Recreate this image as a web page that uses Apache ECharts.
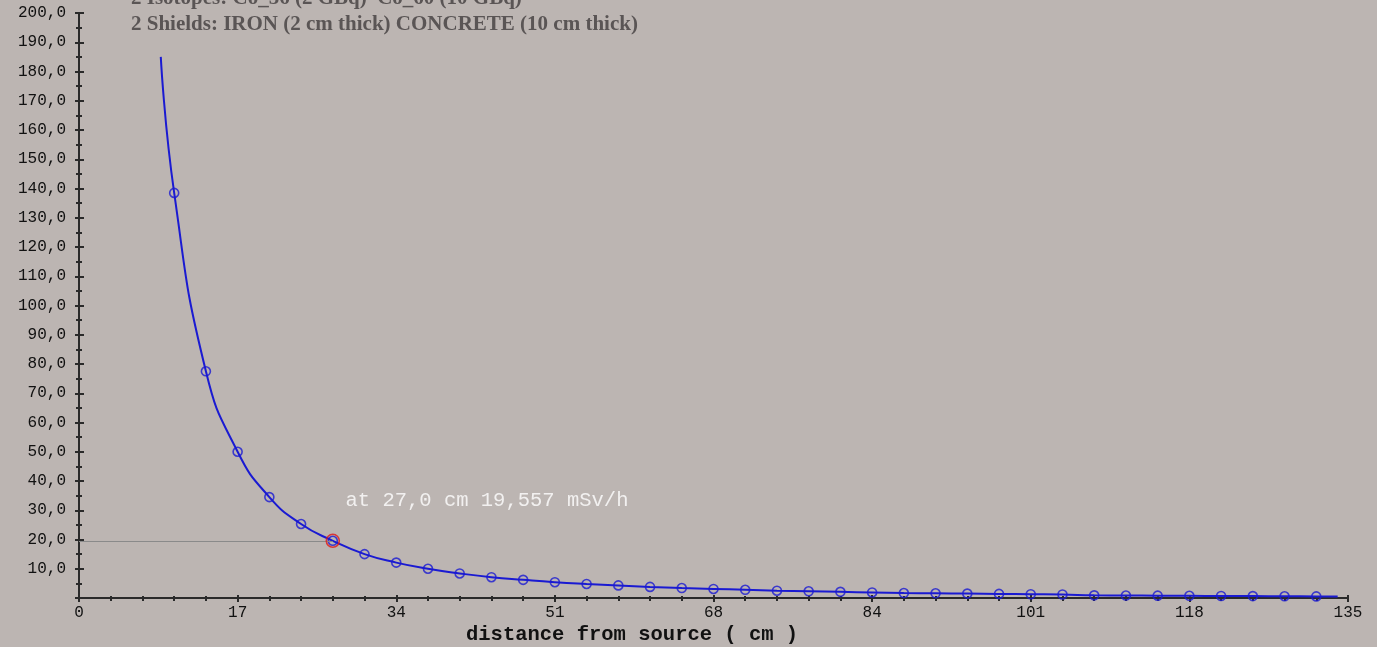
<!DOCTYPE html>
<html>
<head>
<meta charset="utf-8">
<script src="https://cdn.jsdelivr.net/npm/echarts@6/dist/echarts.min.js"></script>
<style>
    html, body { margin: 0; padding: 0; background: #bcb5b2; }
    #chart { width: 1377px; height: 647px; }
</style>
</head>
<body>
<div id="chart"></div>
<script>
// --- Data ---

const titleLines = [
    '2 Isotopes: Co_56 (2 GBq)  Co_60 (10 GBq)',
    '2 Shields: IRON (2 cm thick) CONCRETE (10 cm thick)',
];
const xAxisName = 'distance from source ( cm )';

// sample points (cm) and dose rate (mSv/h)
const distances = [10.125, 13.5, 16.875, 20.25, 23.625, 27, 30.375, 33.75, 37.125, 40.5,
    43.875, 47.25, 50.625, 54, 57.375, 60.75, 64.125, 67.5, 70.875, 74.25,
    77.625, 81, 84.375, 87.75, 91.125, 94.5, 97.875, 101.25, 104.625, 108,
    111.375, 114.75, 118.125, 121.5, 124.875, 128.25, 131.625];
const doseRates = [138.5, 77.5, 50.0, 34.5, 25.3, 19.557, 15.0, 12.1, 10.0, 8.4,
    7.1, 6.2, 5.4, 4.8, 4.3, 3.8, 3.4, 3.1, 2.8, 2.5,
    2.3, 2.1, 1.9, 1.7, 1.6, 1.5, 1.4, 1.3, 1.2, 0.9,
    0.85, 0.8, 0.75, 0.7, 0.65, 0.6, 0.55];

// the curve runs a little past the first and last marker
const curveStart = [8.7, 185];
const curveEnd = [133.9, 0.5];

const picked = [27, 19.557];
const pickedText = 'at 27,0 cm 19,557 mSv/h';

// --- Helpers ---

const BLUE = '#1a1ad2';
const MONO = '"Liberation Mono", "DejaVu Sans Mono", monospace';

const yLabel = v => v === 0 ? '' : v.toFixed(1).replace('.', ',');
const xLabel = v => String(Math.round(v));

function markerPoints() {
    return distances.map((d, i) => [d, doseRates[i]]);
}

function curvePoints() {
    return [curveStart, ...markerPoints(), curveEnd];
}

// --- Chart ---

const chart = echarts.init(document.getElementById('chart'), null, { renderer: 'canvas' });

const xBase = { type: 'value', min: 0, max: 135, interval: 16.875, splitLine: { show: false } };
const yBase = { type: 'value', min: 0, max: 200, interval: 10, splitLine: { show: false } };

chart.setOption({
    animation: false,
    backgroundColor: '#bcb5b2',
    grid: { left: 79, right: 29, top: 13, bottom: 49, containLabel: false },
    xAxis: [
        {
            ...xBase,
            axisLine: { lineStyle: { color: '#2a2a2a', width: 2 } },
            axisTick: { length: 4, lineStyle: { color: '#2a2a2a', width: 2 } },
            minorTick: { show: true, splitNumber: 5, length: 3, lineStyle: { color: '#2a2a2a', width: 2 } },
            axisLabel: { formatter: xLabel, margin: 7, color: '#111', fontFamily: MONO, fontSize: 16, showMaxLabel: true },
        },
        {
            ...xBase,
            axisLine: { show: false },
            axisTick: { inside: true, length: 3, lineStyle: { color: '#2a2a2a', width: 2 } },
            minorTick: { show: true, splitNumber: 5, length: 2, lineStyle: { color: '#2a2a2a', width: 2 } },
            axisLabel: { show: false },
            position: 'bottom',
        },
    ],
    yAxis: [
        {
            ...yBase,
            axisLine: { lineStyle: { color: '#2a2a2a', width: 2 } },
            axisTick: { length: 4, lineStyle: { color: '#2a2a2a', width: 2 } },
            minorTick: { show: true, splitNumber: 2, length: 3, lineStyle: { color: '#2a2a2a', width: 2 } },
            axisLabel: { formatter: yLabel, margin: 13, color: '#111', fontFamily: MONO, fontSize: 16 },
        },
        {
            ...yBase,
            position: 'left',
            axisLine: { show: false },
            axisTick: { inside: true, length: 5, lineStyle: { color: '#2a2a2a', width: 2 } },
            minorTick: { show: true, splitNumber: 2, length: 3, lineStyle: { color: '#2a2a2a', width: 2 } },
            axisLabel: { show: false },
        },
    ],
    graphic: [
        {
            type: 'text', left: 131, top: -12,
            style: { text: titleLines[0], fill: '#5a5555', font: 'bold 21px "Liberation Serif", serif' },
        },
        {
            type: 'text', left: 131, top: 14,
            style: { text: titleLines[1], fill: '#5a5555', font: 'bold 21px "Liberation Serif", serif' },
        },
        {
            type: 'text', left: 466, top: 624,
            style: { text: xAxisName, fill: '#111', font: 'bold 20.5px ' + MONO },
        },
    ],
    series: [
        {
            name: 'curve', type: 'line',
            data: curvePoints(),
            smooth: 0.5,
            showSymbol: false, silent: true,
            lineStyle: { color: BLUE, width: 2 },
            z: 3,
        },
        {
            name: 'samples', type: 'scatter',
            data: markerPoints(),
            symbol: 'circle', symbolSize: 9,
            itemStyle: { color: 'transparent', borderColor: BLUE, borderWidth: 1.6 },
            silent: true, z: 4,
        },
        {
            name: 'picked', type: 'scatter',
            data: [picked],
            symbol: 'circle', symbolSize: 13,
            itemStyle: { color: 'transparent', borderColor: '#e01818', borderWidth: 1.6 },
            label: {
                show: true, formatter: pickedText,
                position: [20, -33], align: 'left', verticalAlign: 'middle',
                color: '#ffffff', fontFamily: MONO, fontSize: 20.5,
            },
            markLine: {
                silent: true, symbol: 'none',
                label: { show: false },
                lineStyle: { color: '#8a8a8a', width: 1, type: 'solid' },
                data: [[{ coord: [0, picked[1]] }, { coord: picked }]],
            },
            silent: true, z: 5,
        },
    ],
});
</script>
</body>
</html>
